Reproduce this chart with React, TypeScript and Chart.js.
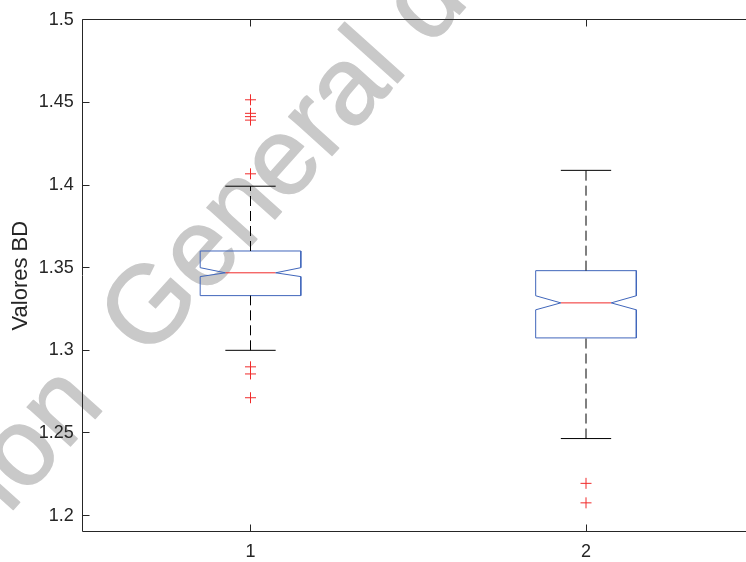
import React, { useEffect, useRef } from 'react';
import { Chart, registerables } from 'chart.js';

Chart.register(...registerables);

// ---- data ----
const categories = ['1', '2'];
const positions = [1, 2];
const q1 = [1.3331, 1.3075];
const q3 = [1.3601, 1.3482];
const medians = [1.3469, 1.3287];
const notchLow = [1.3446, 1.3245];
const notchHigh = [1.35, 1.333];
const whiskerLow = [1.3, 1.2466];
const whiskerHigh = [1.3993, 1.4089];
const outliers1 = [1.4516, 1.4434, 1.4414, 1.4393, 1.4068, 1.29, 1.2857, 1.2713];
const outliers2 = [1.2195, 1.2077];
const yTicks = [1.2, 1.25, 1.3, 1.35, 1.4, 1.45, 1.5];
const yTickLabels = ['1.2', '1.25', '1.3', '1.35', '1.4', '1.45', '1.5'];
const yLabel = 'Valores BD';
const watermarkFirst = 'Dirección';
const watermarkRest = 'General de Bibliotecas de la UNAM';

// ---- styles ----
const BOX_HALF = 0.15;
const NOTCH_HALF = 0.075;
const CAP_HALF = 0.075;
const BLUE = '#4066bb';
const RED = '#f02a2a';
const AXIS = '#262626';
const FONT = '"Liberation Sans", Arial, Helvetica, sans-serif';
const WM_COLOR = '#c9c9c9';

const watermarkPlugin = {
  id: 'watermark',
  beforeDraw(chart: any) {
    const ctx = chart.ctx;
    ctx.save();
    ctx.fillStyle = '#ffffff';
    ctx.fillRect(0, 0, chart.width, chart.height);
    ctx.font = `110px ${FONT}`;
    ctx.fillStyle = WM_COLOR;
    ctx.strokeStyle = WM_COLOR;
    ctx.lineWidth = 1.5;
    ctx.lineJoin = 'round';
    const space = ctx.measureText(' ').width;
    const firstW = ctx.measureText(watermarkFirst).width;
    ctx.translate(147, 361);
    ctx.rotate((-48 * Math.PI) / 180);
    ctx.textAlign = 'left';
    ctx.textBaseline = 'alphabetic';
    const fx = -(firstW + space + 30);
    ctx.fillText(watermarkFirst, fx, 0);
    ctx.strokeText(watermarkFirst, fx, 0);
    ctx.fillText(watermarkRest, 0, 0);
    ctx.strokeText(watermarkRest, 0, 0);
    ctx.restore();
  },
};

const framePlugin = {
  id: 'frame',
  beforeDatasetsDraw(chart: any) {
    const { ctx, chartArea: a, scales } = chart;
    const xs = scales.x;
    const ys = scales.y;
    const L = Math.floor(a.left) + 0.5;
    const R = Math.floor(a.right) + 0.5;
    const T = Math.floor(a.top) + 0.5;
    const B = Math.floor(a.bottom) + 0.5;
    const TL = 7;
    ctx.save();
    ctx.strokeStyle = AXIS;
    ctx.lineWidth = 1;
    ctx.beginPath();
    ctx.moveTo(L, B);
    ctx.lineTo(L, T);
    ctx.lineTo(R, T);
    ctx.lineTo(R, B);
    ctx.lineTo(L, B);
    yTicks.forEach((v) => {
      const py = Math.floor(ys.getPixelForValue(v)) + 0.5;
      ctx.moveTo(L, py);
      ctx.lineTo(L + TL, py);
      ctx.moveTo(R, py);
      ctx.lineTo(R - TL, py);
    });
    positions.forEach((v) => {
      const px = Math.floor(xs.getPixelForValue(v)) + 0.5;
      ctx.moveTo(px, B);
      ctx.lineTo(px, B - TL);
      ctx.moveTo(px, T);
      ctx.lineTo(px, T + TL);
    });
    ctx.stroke();
    ctx.restore();
  },
};

function line(data: { x: number; y: number }[], color: string, dash: number[] = []) {
  return {
    data,
    showLine: true,
    borderColor: color,
    backgroundColor: color,
    borderWidth: 1,
    borderDash: dash,
    pointRadius: 0,
    pointHoverRadius: 0,
    fill: false,
    tension: 0,
  };
}

function buildDatasets() {
  const ds: any[] = [];
  positions.forEach((x, i) => {
    ds.push(line([{ x, y: q3[i] }, { x, y: whiskerHigh[i] }], '#000000', [10, 5]));
    ds.push(line([{ x, y: whiskerLow[i] }, { x, y: q1[i] }], '#000000', [10, 5]));
    ds.push(line([{ x: x - CAP_HALF, y: whiskerHigh[i] }, { x: x + CAP_HALF, y: whiskerHigh[i] }], '#000000'));
    ds.push(line([{ x: x - CAP_HALF, y: whiskerLow[i] }, { x: x + CAP_HALF, y: whiskerLow[i] }], '#000000'));
    ds.push(
      line(
        [
          { x: x - BOX_HALF, y: q1[i] },
          { x: x - BOX_HALF, y: notchLow[i] },
          { x: x - NOTCH_HALF, y: medians[i] },
          { x: x - BOX_HALF, y: notchHigh[i] },
          { x: x - BOX_HALF, y: q3[i] },
          { x: x + BOX_HALF, y: q3[i] },
          { x: x + BOX_HALF, y: notchHigh[i] },
          { x: x + NOTCH_HALF, y: medians[i] },
          { x: x + BOX_HALF, y: notchLow[i] },
          { x: x + BOX_HALF, y: q1[i] },
          { x: x - BOX_HALF, y: q1[i] },
        ],
        BLUE
      )
    );
    ds.push(line([{ x: x - NOTCH_HALF, y: medians[i] }, { x: x + NOTCH_HALF, y: medians[i] }], RED));
  });
  [outliers1, outliers2].forEach((arr, i) => {
    ds.push({
      data: arr.map((v) => ({ x: positions[i], y: v })),
      showLine: false,
      pointStyle: 'cross',
      pointRadius: 5.5,
      pointHoverRadius: 5.5,
      borderColor: RED,
      backgroundColor: RED,
      pointBorderWidth: 1,
      borderWidth: 1,
    });
  });
  return ds;
}

export default function App() {
  const ref = useRef<HTMLCanvasElement | null>(null);
  useEffect(() => {
    if (!ref.current) return;
    const chart = new Chart(ref.current, {
      type: 'scatter',
      data: { datasets: buildDatasets() },
      plugins: [watermarkPlugin, framePlugin],
      options: {
        animation: false,
        responsive: false,
        events: [],
        layout: { padding: { top: 17.5, left: 0, right: 16.25, bottom: 0 } },
        plugins: { legend: { display: false }, tooltip: { enabled: false } },
        scales: {
          x: {
            type: 'linear',
            min: 0.5,
            max: 2.5,
            grid: { display: false, drawTicks: false },
            border: { display: false },
            ticks: {
              color: AXIS,
              font: { family: FONT, size: 18 },
              padding: 10,
              callback: (v: any) => {
                const idx = positions.indexOf(Number(v));
                return idx >= 0 ? categories[idx] : '';
              },
            },
            afterBuildTicks: (s: any) => {
              s.ticks = positions.map((v) => ({ value: v }));
            },
            afterFit: (s: any) => {
              s.height = 30.5;
            },
          },
          y: {
            type: 'linear',
            min: 1.19036,
            max: 1.5,
            grid: { display: false, drawTicks: false },
            border: { display: false },
            ticks: {
              color: AXIS,
              font: { family: FONT, size: 18 },
              padding: 9,
              callback: (_v: any, i: number) => yTickLabels[i],
            },
            title: {
              display: true,
              text: yLabel,
              color: AXIS,
              font: { family: FONT, size: 22 },
              padding: { top: 8, bottom: 0 },
            },
            afterBuildTicks: (s: any) => {
              s.ticks = yTicks.map((v) => ({ value: v }));
            },
            afterFit: (s: any) => {
              s.width = 82.75;
            },
          },
        },
      } as any,
    });
    return () => chart.destroy();
  }, []);
  return (
    <div
      style={{
        position: 'fixed',
        left: 0,
        top: 0,
        width: 746,
        height: 562,
        overflow: 'hidden',
        background: '#ffffff',
      }}
    >
      <canvas ref={ref} width={770} height={562} style={{ display: 'block' }} />
    </div>
  );
}
